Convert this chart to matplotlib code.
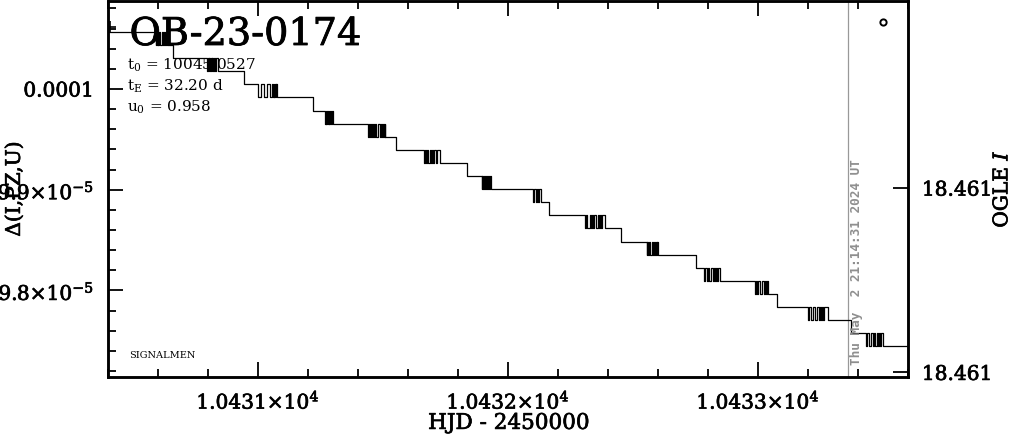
import matplotlib
matplotlib.use('Agg')
import matplotlib.pyplot as plt
import matplotlib.patheffects as pe
from matplotlib.ticker import MultipleLocator, FixedLocator, FixedFormatter, FormatStrFormatter

plt.rcParams['font.family'] = ['DejaVu Serif']
plt.rcParams['mathtext.fontset'] = 'dejavuserif'

# quantised Delta levels, top to bottom
levels = [10.0566e-5, 10.0436e-5, 10.0306e-5, 10.0176e-5, 10.0046e-5,
          9.9916e-5, 9.9785e-5, 9.9655e-5, 9.9525e-5, 9.9395e-5,
          9.9265e-5, 9.9135e-5, 9.9005e-5, 9.8875e-5, 9.8745e-5,
          9.8615e-5, 9.8484e-5, 9.8354e-5, 9.8224e-5, 9.8094e-5,
          9.7964e-5, 9.7834e-5, 9.7704e-5, 9.7574e-5, 9.7444e-5]

# observation epochs per night (HJD - 2450000), each night flips between
# an upper and a lower level
nights = [
    [10430.592, 10430.594, 10430.597, 10430.599, 10430.602, 10430.604,
     10430.607, 10430.616, 10430.620, 10430.626, 10430.629, 10430.632, 10430.636],
    [10430.796, 10430.800, 10430.803, 10430.806, 10430.809, 10430.812,
     10430.815, 10430.818, 10430.822, 10430.826, 10430.830, 10430.834, 10430.840],
    [10431.000, 10431.012, 10431.026, 10431.036, 10431.048, 10431.056,
     10431.060, 10431.063, 10431.066, 10431.069, 10431.072, 10431.074, 10431.076],
    [10431.268, 10431.271, 10431.274, 10431.277, 10431.280, 10431.283,
     10431.286, 10431.290, 10431.294, 10431.297, 10431.300],
    [10431.440, 10431.444, 10431.448, 10431.452, 10431.456, 10431.462,
     10431.466, 10431.470, 10431.474, 10431.480, 10431.488, 10431.492,
     10431.496, 10431.500, 10431.504, 10431.508, 10431.510],
    [10431.664, 10431.668, 10431.672, 10431.676, 10431.680, 10431.690,
     10431.694, 10431.698, 10431.702, 10431.706, 10431.712, 10431.718, 10431.728],
    [10431.895, 10431.898, 10431.901, 10431.904, 10431.907, 10431.911,
     10431.915, 10431.919, 10431.923, 10431.927, 10431.931],
    [10432.100, 10432.104, 10432.112, 10432.116, 10432.120, 10432.124, 10432.132],
    [10432.308, 10432.312, 10432.318, 10432.330, 10432.334, 10432.338,
     10432.342, 10432.346, 10432.352, 10432.360, 10432.366, 10432.370,
     10432.374, 10432.378, 10432.388],
    [10432.555, 10432.558, 10432.561, 10432.564, 10432.567, 10432.575,
     10432.579, 10432.583, 10432.587, 10432.591, 10432.595, 10432.598, 10432.601],
    [10432.784, 10432.788, 10432.796, 10432.800, 10432.804, 10432.812,
     10432.820, 10432.826, 10432.830, 10432.834, 10432.838, 10432.842, 10432.848],
    [10432.988, 10432.992, 10432.996, 10433.000, 10433.008, 10433.016,
     10433.024, 10433.028, 10433.032, 10433.036, 10433.040],
    [10433.200, 10433.204, 10433.212, 10433.220, 10433.228, 10433.236,
     10433.244, 10433.248, 10433.252, 10433.256, 10433.260, 10433.266, 10433.280],
    [10433.432, 10433.436, 10433.444, 10433.452, 10433.460, 10433.464,
     10433.468, 10433.476, 10433.480, 10433.484, 10433.488, 10433.494, 10433.500],
]
night_upper = [0, 2, 4, 6, 7, 9, 11, 12, 14, 16, 18, 19, 21, 23]
night_lower = [1, 3, 5, 7, 8, 10, 12, 13, 15, 17, 19, 20, 22, 24]
# daytime drop after each night (None = no drop before next night)
drop_hjd = [10430.659, 10430.944, 10431.221, None, 10431.552, 10431.837, None,
            10432.165, 10432.452, 10432.751, None, 10433.077, 10433.372, None]

start_hjd, end_hjd = 10430.30, 10433.70
first_point = (10430.408, 10.0616e-5)

ogle_hjd = [10433.500]
ogle_mag = [18.46072]

now_hjd = 10433.359
now_label = 'Thu May  2 21:14:31 2024 UT'

# build the step series
t = [start_hjd]
d = [levels[0]]
for k, night in enumerate(nights):
    for j, tj in enumerate(night):
        t.append(tj)
        d.append(levels[night_lower[k]] if j % 2 == 0 else levels[night_upper[k]])
    if drop_hjd[k] is not None:
        t.append(drop_hjd[k])
        d.append(levels[night_lower[k] + 1])
t.append(end_hjd)
d.append(d[-1])

heavy = [pe.withStroke(linewidth=0.5, foreground='black')]
heavy_big = [pe.withStroke(linewidth=0.6, foreground='black')]

fig = plt.figure(figsize=(10.11, 4.34), dpi=100)
ax = fig.add_axes([0.1068, 0.1313, 0.7913, 0.8664])

ax.plot(t, d, drawstyle='steps-post', color='black', lw=0.9, zorder=3)
ax.plot(*first_point, marker='+', color='black', ms=8, mew=1.2, zorder=3)
ax.axvline(now_hjd, color='#999999', lw=0.9, zorder=2)
ax.annotate(now_label, xy=(now_hjd, 9.7140e-5), xytext=(1.5, 9),
            textcoords='offset points', rotation=90, ha='left', va='bottom',
            color='#8f8f8f', fontsize=9.2, fontweight='bold',
            family='DejaVu Sans Mono')

ax.set_xlim(10430.4, 10433.6)
ax.set_ylim(9.7140e-5, 10.0874e-5)

ax.xaxis.set_major_locator(FixedLocator([10431, 10432, 10433]))
ax.xaxis.set_major_formatter(FixedFormatter(['1.0431×10$^{4}$', '1.0432×10$^{4}$', '1.0433×10$^{4}$']))
ax.xaxis.set_minor_locator(MultipleLocator(0.2))
ax.yaxis.set_major_locator(FixedLocator([9.8e-5, 9.9e-5, 1e-4]))
ax.yaxis.set_major_formatter(FixedFormatter(['9.8×10$^{-5}$', '9.9×10$^{-5}$', '0.0001']))
ax.yaxis.set_minor_locator(MultipleLocator(2e-7))

ax.tick_params(which='both', direction='in', top=True, right=False, width=1.3)
ax.tick_params(which='major', length=11, labelsize=14.5)
ax.tick_params(which='minor', length=5.5)
ax.tick_params(axis='x', pad=9)
ax.tick_params(axis='y', pad=10)
for lab in ax.get_xticklabels() + ax.get_yticklabels():
    lab.set_path_effects(heavy)

ax.set_xlabel('HJD - 2450000', fontsize=15.5, va='center', path_effects=heavy)
ax.xaxis.set_label_coords(0.501, -0.122)
ax.set_ylabel('Δ(I,PZ,U)', fontsize=14.5, va='center', path_effects=heavy)
ax.yaxis.set_label_coords(-0.117, 0.5)

ax.text(0.027, 0.883, 'OB-23-0174', transform=ax.transAxes, fontsize=27.5,
        ha='left', va='baseline', zorder=1, path_effects=heavy_big)
ax.text(0.024, 0.818, r'$\mathrm{t_0}$ = 10045.0527', transform=ax.transAxes,
        fontsize=11, ha='left', va='baseline', zorder=1)
ax.text(0.024, 0.761, r'$\mathrm{t_E}$ = 32.20 d', transform=ax.transAxes,
        fontsize=11, ha='left', va='baseline', zorder=1)
ax.text(0.024, 0.705, r'$\mathrm{u_0}$ = 0.958', transform=ax.transAxes,
        fontsize=11, ha='left', va='baseline', zorder=1)
ax.text(0.026, 0.05, 'SIGNALMEN', transform=ax.transAxes, fontsize=7,
        ha='left', va='baseline')

ax2 = ax.twinx()
ax2.plot(ogle_hjd, ogle_mag, 'o', mfc='none', mec='black', ms=4.5, mew=1.4)
ax2.set_ylim(18.461105, 18.460697)
ax2.yaxis.set_major_locator(FixedLocator([18.4609, 18.4611]))
ax2.yaxis.set_major_formatter(FormatStrFormatter('%.3f'))
ax2.tick_params(direction='in', length=11, width=1.3, labelsize=14.5, pad=10)
for lab in ax2.get_yticklabels():
    lab.set_path_effects(heavy)
ax2.set_ylabel('OGLE $I$', fontsize=14.5, va='center', path_effects=heavy)
ax2.yaxis.set_label_coords(1.1175, 0.5)

for a in (ax, ax2):
    for s in a.spines.values():
        s.set_linewidth(1.8)

fig.savefig('out.png', dpi=100)
